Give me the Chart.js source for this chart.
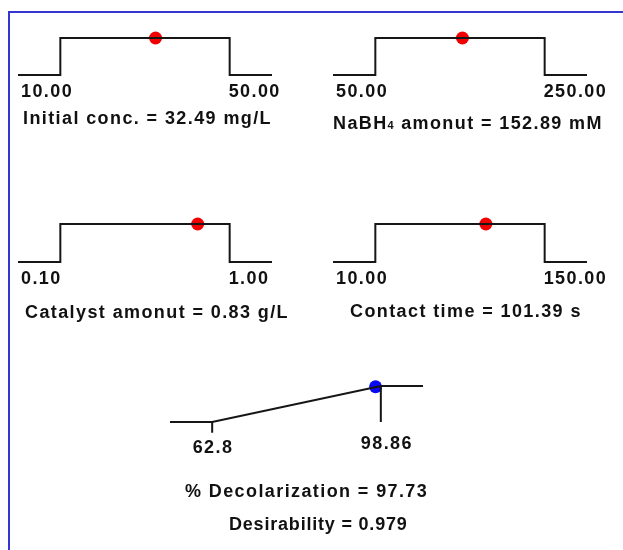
<!DOCTYPE html>
<html>
<head>
<meta charset="utf-8">
<script src="https://cdn.jsdelivr.net/npm/chart.js@4"></script>
<style>
  body { margin: 0; background: #fff; }
  #wrap { position: relative; width: 623px; height: 550px; overflow: hidden; font-family: "Liberation Sans", Arial, sans-serif; }
  #frame { position: absolute; left: 8px; top: 11px; right: -4px; bottom: -4px; border-left: 2px solid #3535d4; border-top: 2px solid #3535d4; }
  canvas { position: absolute; }
  .txt { position: absolute; font-weight: bold; font-size: 18px; line-height: 20px; letter-spacing: 1.4px; color: #111; white-space: nowrap; transform: scaleY(1.06); transform-origin: 50% 50%; }
  .sub { font-size: 11px; letter-spacing: 1px; }
</style>
</head>
<body>
<div id="wrap"><div id="frame"></div></div>
<script>
// factores (ramp superior)
const factorNames = ['Initial conc.', 'NaBH<span class="sub">4</span> amonut', 'Catalyst amonut', 'Contact time'];
const factorUnits = ['mg/L', 'mM', 'g/L', 's'];
const factorLow = [10, 50, 0.1, 10];
const factorHigh = [50, 250, 1, 150];
const factorLowLabels = ['10.00', '50.00', '0.10', '10.00'];
const factorHighLabels = ['50.00', '250.00', '1.00', '150.00'];
const factorOptimum = [32.49, 152.89, 0.83, 101.39];
const factorOptimumLabels = ['32.49', '152.89', '0.83', '101.39'];

// resposta
const responseName = '% Decolarization';
const responseLow = 62.8;
const responseHigh = 98.86;
const responseLowLabel = '62.8';
const responseHighLabel = '98.86';
const responseValue = 97.73;
const responseValueLabel = '97.73';
const desirability = 0.979;
const desirabilityLabel = '0.979';

// layout (posicoes em px)
const panels = [
  { left: 10, top: 30, w: 270, h: 53, titleX: 23, titleY: 108 },
  { left: 325, top: 30, w: 270, h: 53, titleX: 333, titleY: 113 },
  { left: 10, top: 216, w: 270, h: 54, titleX: 25, titleY: 302 },
  { left: 325, top: 216, w: 270, h: 54, titleX: 350, titleY: 301 }
];
const respPanel = { left: 162, top: 378, w: 269, h: 60 };
const EXT = 0.25;
const wrap = document.getElementById('wrap');

function addText(html, x, y, center) {
  const d = document.createElement('div');
  d.className = 'txt';
  d.innerHTML = html;
  d.style.left = x + 'px';
  d.style.top = y + 'px';
  wrap.appendChild(d);
  if (center) d.style.left = (x - d.offsetWidth / 2 + 1) + 'px';
  return d;
}

function makeCanvas(p) {
  const c = document.createElement('canvas');
  c.width = p.w; c.height = p.h;
  c.style.left = p.left + 'px'; c.style.top = p.top + 'px';
  c.style.width = p.w + 'px'; c.style.height = p.h + 'px';
  wrap.appendChild(c);
  return c;
}

function baseOptions(xmin, xmax, pad) {
  return {
    responsive: false,
    animation: false,
    events: [],
    layout: { padding: pad },
    plugins: { legend: { display: false }, tooltip: { enabled: false } },
    scales: {
      x: { type: 'linear', display: false, min: xmin, max: xmax },
      y: { type: 'linear', display: false, min: 0, max: 1 }
    }
  };
}

const lineStyle = { borderColor: '#161616', borderWidth: 2, pointRadius: 0, tension: 0, fill: false, clip: false, borderCapStyle: 'butt', borderJoinStyle: 'miter' };

factorLow.forEach((lo, i) => {
  const hi = factorHigh[i];
  const r = hi - lo;
  const p = panels[i];
  const chart = new Chart(makeCanvas(p), {
    type: 'line',
    data: {
      datasets: [
        Object.assign({
          data: [
            { x: lo - EXT * r, y: 0 }, { x: lo, y: 0 }, { x: lo, y: 1 },
            { x: hi, y: 1 }, { x: hi, y: 0 }, { x: hi + EXT * r, y: 0 }
          ]
        }, lineStyle),
        {
          data: [{ x: factorOptimum[i], y: 1 }],
          showLine: false, pointRadius: 6.5, pointBackgroundColor: '#f00000', pointBorderWidth: 0, clip: false
        }
      ]
    },
    options: baseOptions(lo - EXT * r, hi + EXT * r, 8)
  });
  const sx = chart.scales.x, sy = chart.scales.y;
  const base = p.top + sy.getPixelForValue(0);
  addText(factorLowLabels[i], p.left + sx.getPixelForValue(lo - EXT * r) + 3, base + 6);
  addText(factorHighLabels[i], p.left + sx.getPixelForValue(hi) - 1, base + 6);
  addText(factorNames[i] + ' = ' + factorOptimumLabels[i] + ' ' + factorUnits[i], p.titleX, p.titleY);
});

// resposta: rampa
(function () {
  const lo = responseLow, hi = responseHigh, r = hi - lo;
  const p = respPanel;
  const chart = new Chart(makeCanvas(p), {
    type: 'line',
    data: {
      datasets: [
        Object.assign({ data: [{ x: lo - EXT * r, y: 0 }, { x: lo, y: 0 }, { x: hi, y: 1 }, { x: hi + EXT * r, y: 1 }] }, lineStyle),
        Object.assign({ data: [{ x: hi, y: 1 }, { x: hi, y: 0 }] }, lineStyle),
        Object.assign({ data: [{ x: lo, y: 0 }, { x: lo, y: -0.3 }] }, lineStyle),
        {
          data: [{ x: responseValue, y: desirability }],
          showLine: false, pointRadius: 6.5, pointBackgroundColor: '#0a0af0', pointBorderWidth: 0, clip: false
        }
      ]
    },
    options: baseOptions(lo - EXT * r, hi + EXT * r, { left: 8, right: 8, top: 8, bottom: 16 })
  });
  const sx = chart.scales.x, sy = chart.scales.y;
  const base = p.top + sy.getPixelForValue(0);
  addText(responseLowLabel, p.left + sx.getPixelForValue(lo), base + 15, true);
  addText(responseHighLabel, p.left + sx.getPixelForValue(hi) + 5, base + 11, true);
  addText(responseName + ' = ' + responseValueLabel, 185, 481);
  const d = addText('Desirability = ' + desirabilityLabel, 229, 514);
  d.style.letterSpacing = '0.8px';
})();
</script>
</body>
</html>
